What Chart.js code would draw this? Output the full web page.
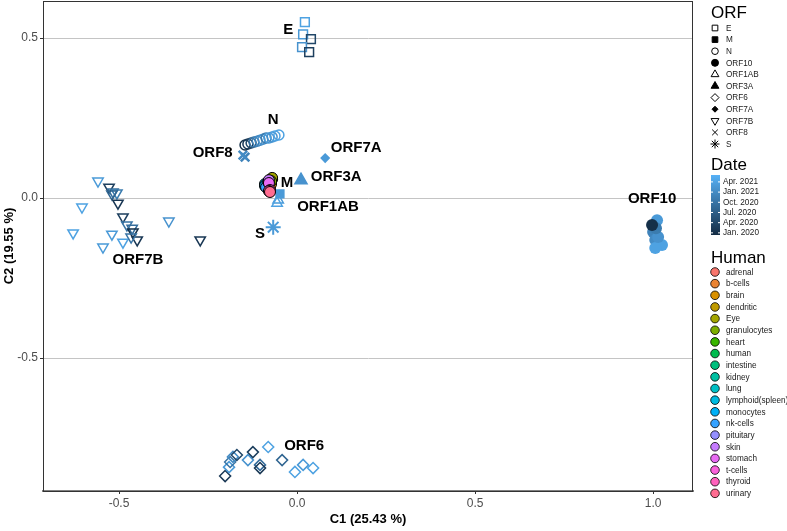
<!DOCTYPE html>
<html lang="en">
<head>
<meta charset="UTF-8" />
<title>C1 / C2 scatter</title>
<script src="https://cdn.jsdelivr.net/npm/chart.js"></script>
<style>
  body { margin: 0; background: #fff; }
  #wrap { width: 787px; height: 531px; }
</style>
</head>
<body>
<div id="wrap"><canvas id="chart" width="787" height="531"></canvas></div>
<script>
// axis ticks
const X_TICKS = [-0.5, 0.0, 0.5, 1.0];
const Y_TICKS = [-0.5, 0.0, 0.5];

// ORF points (C1, C2, sample month)
const E_C1 = [0.022, 0.017, 0.039, 0.014, 0.034];
const E_C2 = [0.550, 0.512, 0.497, 0.472, 0.456];
const E_DATE = ['2021-04', '2021-03', '2020-04', '2021-02', '2020-03'];

const M_C1 = [-0.048];
const M_C2 = [0.013];
const M_DATE = ['2021-03'];

const N_C1 = [-0.146, -0.138, -0.129, -0.121, -0.112, -0.104, -0.096, -0.087, -0.079, -0.070, -0.062, -0.051];
const N_C2 = [0.166, 0.169, 0.172, 0.175, 0.178, 0.181, 0.184, 0.188, 0.188, 0.191, 0.194, 0.197];
const N_DATE = ['2020-01', '2020-02', '2020-04', '2020-10', '2020-12', '2021-01', '2021-02', '2020-11', '2021-03', '2021-02', '2021-04', '2021-04'];

const ORF10_C1 = [1.011, 1.000, 1.006, 1.025, 1.006, 1.014, 1.008, 0.997];
const ORF10_C2 = [-0.069, -0.106, -0.131, -0.147, -0.156, -0.122, -0.094, -0.084];
const ORF10_DATE = ['2021-03', '2020-12', '2021-01', '2021-04', '2021-04', '2021-02', '2020-11', '2020-01'];

const ORF1AB_C1 = [-0.053, -0.056];
const ORF1AB_C2 = [-0.006, -0.016];
const ORF1AB_DATE = ['2021-03', '2021-04'];

const ORF3A_C1 = [0.011];
const ORF3A_C2 = [0.056];
const ORF3A_DATE = ['2021-02'];

const ORF6_C1 = [-0.202, -0.191, -0.188, -0.180, -0.169, -0.138, -0.124, -0.104, -0.104, -0.081, -0.042, -0.006, 0.017, 0.045];
const ORF6_C2 = [-0.869, -0.841, -0.825, -0.809, -0.803, -0.819, -0.794, -0.834, -0.844, -0.778, -0.819, -0.856, -0.834, -0.844];
const ORF6_DATE = ['2020-02', '2021-03', '2020-10', '2021-01', '2020-04', '2021-02', '2020-03', '2020-09', '2020-02', '2021-04', '2020-08', '2021-04', '2021-03', '2021-04'];

const ORF7A_C1 = [0.079];
const ORF7A_C2 = [0.125];
const ORF7A_DATE = ['2021-03'];

const ORF7B_C1 = [-0.559, -0.528, -0.517, -0.506, -0.520, -0.503, -0.604, -0.489, -0.478, -0.463, -0.461, -0.629, -0.520, -0.489, -0.449, -0.466, -0.545, -0.360, -0.272];
const ORF7B_C2 = [0.053, 0.034, 0.019, 0.016, 0.013, -0.016, -0.028, -0.059, -0.084, -0.094, -0.106, -0.109, -0.113, -0.138, -0.131, -0.122, -0.153, -0.072, -0.131];
const ORF7B_DATE = ['2021-03', '2020-03', '2020-09', '2020-11', '2020-08', '2020-02', '2021-04', '2020-03', '2020-10', '2020-09', '2020-01', '2021-04', '2021-03', '2021-04', '2020-02', '2020-10', '2021-03', '2021-02', '2020-02'];

const ORF8_C1 = [-0.146, -0.152];
const ORF8_C2 = [0.128, 0.134];
const ORF8_DATE = ['2020-12', '2021-01'];

const S_C1 = [-0.067];
const S_C2 = [-0.091];
const S_DATE = ['2021-03'];

// human tissue points
const HUMAN = ['adrenal', 'b-cells', 'brain', 'dendritic', 'Eye', 'granulocytes', 'heart', 'human', 'intestine', 'kidney',
  'lung', 'lymphoid(spleen)', 'monocytes', 'nk-cells', 'pituitary', 'skin', 'stomach', 't-cells', 'thyroid', 'urinary'];
const HUMAN_C1 = [-0.079, -0.076, -0.073, -0.070, -0.070, -0.073, -0.081, -0.084, -0.087, -0.084,
  -0.087, -0.090, -0.090, -0.087, -0.081, -0.079, -0.079, -0.076, -0.079, -0.076];
const HUMAN_C2 = [0.031, 0.034, 0.044, 0.059, 0.063, 0.053, 0.041, 0.038, 0.044, 0.047,
  0.041, 0.044, 0.038, 0.034, 0.050, 0.056, 0.047, 0.025, 0.022, 0.019];
const HUMAN_COLORS = ['#F8766D', '#EA8331', '#D89000', '#C09B00', '#A3A500', '#7CAE00', '#39B600', '#00BB4E', '#00BF7D', '#00C1A3',
  '#00BFC4', '#00BAE0', '#00B0F6', '#35A2FF', '#9590FF', '#C77CFF', '#E76BF3', '#FA62DB', '#FF62BC', '#FF6C91'];

// date colour bar
const DATE_TICKS = ['2021-04', '2021-01', '2020-10', '2020-07', '2020-04', '2020-01'];
const DATE_TICK_LABELS = ['Apr. 2021', 'Jan. 2021', 'Oct. 2020', 'Jul. 2020', 'Apr. 2020', 'Jan. 2020'];
const DATE_LIMITS = ['2019-12-12', '2021-06-02'];

const LOW = [0x13, 0x2B, 0x43], HIGH = [0x56, 0xB1, 0xF7];

function monthIndex(s) {
  const p = s.split('-').map(Number);
  let v = (p[0] - 2020) * 12 + (p[1] - 1);
  if (p.length > 2) v += (p[2] - 1) / 30;
  return v;
}
const DMIN = monthIndex(DATE_LIMITS[0]), DMAX = monthIndex(DATE_LIMITS[1]);

function mix(t) {
  t = Math.max(0, Math.min(1, t));
  const c = LOW.map((l, i) => Math.round(l + (HIGH[i] - l) * t));
  return `rgb(${c[0]},${c[1]},${c[2]})`;
}
function dateColor(s) {
  return mix((monthIndex(s) - DMIN) / (DMAX - DMIN));
}

function orfSet(label, xs, ys, dates, style, radius, filled, extra) {
  const cols = dates.map(dateColor);
  return Object.assign({
    label: label,
    data: xs.map((x, i) => ({ x: x, y: ys[i] })),
    pointStyle: style,
    pointRadius: radius,
    pointBorderWidth: 1.5,
    pointBorderColor: cols,
    pointBackgroundColor: filled ? cols : 'rgba(0,0,0,0)'
  }, extra || {});
}

const datasets = [
  {
    label: 'Human',
    data: HUMAN_C1.map((x, i) => ({ x: x, y: HUMAN_C2[i] })),
    pointStyle: 'circle',
    pointRadius: 5.5,
    pointBorderWidth: 1,
    pointBorderColor: '#000',
    pointBackgroundColor: HUMAN_COLORS
  },
  orfSet('E', E_C1, E_C2, E_DATE, 'rect', 6.2, false),
  orfSet('M', M_C1, M_C2, M_DATE, 'rect', 5.5, true),
  orfSet('N', N_C1, N_C2, N_DATE, 'circle', 5, false),
  orfSet('ORF10', ORF10_C1, ORF10_C2, ORF10_DATE, 'circle', 6, true, { pointBorderWidth: 0 }),
  orfSet('ORF1AB', ORF1AB_C1, ORF1AB_C2, ORF1AB_DATE, 'triangle', 6, false),
  orfSet('ORF3A', ORF3A_C1, ORF3A_C2, ORF3A_DATE, 'triangle', 7, true),
  orfSet('ORF6', ORF6_C1, ORF6_C2, ORF6_DATE, 'rectRot', 5.5, false),
  orfSet('ORF7A', ORF7A_C1, ORF7A_C2, ORF7A_DATE, 'rectRot', 4, true),
  orfSet('ORF7B', ORF7B_C1, ORF7B_C2, ORF7B_DATE, 'triangle', 6, false, { pointRotation: 180 }),
  orfSet('ORF8', ORF8_C1, ORF8_C2, ORF8_DATE, 'crossRot', 6, false, { pointBorderWidth: 2.5 }),
  orfSet('S', S_C1, S_C2, S_DATE, 'star', 7.5, false, { pointBorderWidth: 2 })
];

// cluster labels (data coordinates)
const LABELS = [
  { t: 'E', x: -0.025, y: 0.525 },
  { t: 'N', x: -0.067, y: 0.244 },
  { t: 'ORF8', x: -0.237, y: 0.141 },
  { t: 'ORF7A', x: 0.166, y: 0.156 },
  { t: 'ORF3A', x: 0.110, y: 0.066 },
  { t: 'M', x: -0.028, y: 0.047 },
  { t: 'ORF1AB', x: 0.087, y: -0.028 },
  { t: 'S', x: -0.104, y: -0.113 },
  { t: 'ORF7B', x: -0.447, y: -0.194 },
  { t: 'ORF6', x: 0.020, y: -0.775 },
  { t: 'ORF10', x: 0.997, y: -0.003 }
];

const FONT = '"Liberation Sans", Arial, sans-serif';

const labelPlugin = {
  id: 'clusterLabels',
  afterDatasetsDraw(chart) {
    const ctx = chart.ctx, xs = chart.scales.x, ys = chart.scales.y;
    ctx.save();
    ctx.font = 'bold 15px ' + FONT;
    ctx.fillStyle = '#000';
    ctx.textAlign = 'center';
    ctx.textBaseline = 'middle';
    LABELS.forEach(l => ctx.fillText(l.t, xs.getPixelForValue(l.x), ys.getPixelForValue(l.y)));
    // panel border
    const a = chart.chartArea;
    ctx.strokeStyle = '#333';
    ctx.lineWidth = 1;
    ctx.strokeRect(a.left + 0.5, a.top + 0.5, a.right - a.left - 1, a.bottom - a.top);
    ctx.restore();
  }
};

const legendPlugin = {
  id: 'sideLegend',
  afterDraw(chart) {
    const ctx = chart.ctx;
    const lx = 711;
    const small = '8.2px ' + FONT;
    ctx.save();
    ctx.textBaseline = 'middle';
    ctx.textAlign = 'left';

    // ORF shapes
    ctx.fillStyle = '#000';
    ctx.font = '17px ' + FONT;
    ctx.fillText('ORF', lx, 13);
    const shapes = [
      ['E', 'rect', 4, false, 0], ['M', 'rect', 4, true, 0], ['N', 'circle', 3.3, false, 0],
      ['ORF10', 'circle', 3.5, true, 0], ['ORF1AB', 'triangle', 4.5, false, 0], ['ORF3A', 'triangle', 4.5, true, 0],
      ['ORF6', 'rectRot', 4, false, 0], ['ORF7A', 'rectRot', 3, true, 0], ['ORF7B', 'triangle', 4.5, false, 180],
      ['ORF8', 'crossRot', 4, false, 0], ['S', 'star', 4.5, false, 0]
    ];
    shapes.forEach((s, i) => {
      const y = 28 + i * 11.6;
      ctx.fillStyle = s[3] ? '#000' : 'rgba(0,0,0,0)';
      ctx.strokeStyle = '#000';
      ctx.lineWidth = 1;
      Chart.helpers.drawPoint(ctx, { pointStyle: s[1], radius: s[2], rotation: s[4], borderWidth: 1 }, 715, y);
      ctx.fillStyle = '#1a1a1a';
      ctx.font = small;
      ctx.fillText(s[0], 726, y + 0.5);
    });

    // Date colour bar
    ctx.fillStyle = '#000';
    ctx.font = '17px ' + FONT;
    ctx.fillText('Date', lx, 165);
    const bTop = 175, bBot = 235, bx = 711, bw = 9;
    const g = ctx.createLinearGradient(0, bBot, 0, bTop);
    for (let k = 0; k <= 10; k++) g.addColorStop(k / 10, mix(k / 10));
    ctx.fillStyle = g;
    ctx.fillRect(bx, bTop, bw, bBot - bTop);
    DATE_TICKS.forEach((d, i) => {
      const y = bBot - (monthIndex(d) - DMIN) / (DMAX - DMIN) * (bBot - bTop);
      ctx.strokeStyle = '#fff';
      ctx.lineWidth = 1;
      ctx.beginPath();
      ctx.moveTo(bx, y); ctx.lineTo(bx + 2, y);
      ctx.moveTo(bx + bw - 2, y); ctx.lineTo(bx + bw, y);
      ctx.stroke();
      ctx.fillStyle = '#1a1a1a';
      ctx.font = small;
      ctx.fillText(DATE_TICK_LABELS[i], 723, y);
    });

    // Human fill colours
    ctx.fillStyle = '#000';
    ctx.font = '17px ' + FONT;
    ctx.fillText('Human', lx, 258);
    HUMAN.forEach((h, i) => {
      const y = 272 + i * 11.65;
      ctx.fillStyle = HUMAN_COLORS[i];
      ctx.strokeStyle = '#000';
      ctx.lineWidth = 0.8;
      ctx.beginPath();
      ctx.arc(715, y, 4.3, 0, Math.PI * 2);
      ctx.fill();
      ctx.stroke();
      ctx.fillStyle = '#1a1a1a';
      ctx.font = small;
      ctx.fillText(h, 726, y + 0.5);
    });
    ctx.restore();
  }
};

new Chart(document.getElementById('chart'), {
  type: 'scatter',
  data: { datasets: datasets },
  options: {
    responsive: false,
    animation: false,
    devicePixelRatio: 1,
    layout: { autoPadding: false, padding: { top: 1, right: 94, left: 0, bottom: 0 } },
    plugins: { legend: { display: false }, tooltip: { enabled: false } },
    scales: {
      x: {
        type: 'linear',
        min: -0.7135,
        max: 1.112,
        afterBuildTicks: s => { s.ticks = X_TICKS.map(v => ({ value: v })); },
        afterFit: s => { s.height = 40; s.paddingLeft = 0; s.paddingRight = 0; },
        ticks: {
          callback: v => v.toFixed(1),
          color: '#4d4d4d',
          font: { family: FONT, size: 12 },
          padding: 2,
          maxRotation: 0
        },
        grid: { drawOnChartArea: false, drawTicks: true, tickLength: 3, tickColor: '#333' },
        border: { display: true, color: '#808080', width: 2 },
        title: {
          display: true,
          text: 'C1 (25.43 %)',
          color: '#000',
          font: { family: FONT, size: 13, weight: 'bold' },
          padding: { top: 0, bottom: 4 }
        }
      },
      y: {
        type: 'linear',
        min: -0.9156,
        max: 0.616,
        afterBuildTicks: s => { s.ticks = Y_TICKS.map(v => ({ value: v })); },
        afterFit: s => { s.width = 43; s.paddingTop = 0; s.paddingBottom = 0; },
        ticks: {
          callback: v => v.toFixed(1),
          color: '#4d4d4d',
          font: { family: FONT, size: 12 },
          padding: 2
        },
        grid: { color: '#c4c4c4', lineWidth: 1, tickLength: 3, tickColor: '#333' },
        border: { display: true, color: '#333', width: 1 },
        title: {
          display: true,
          text: 'C2 (19.55 %)',
          color: '#000',
          font: { family: FONT, size: 13, weight: 'bold' },
          padding: { top: 2, bottom: 0 }
        }
      }
    }
  },
  plugins: [labelPlugin, legendPlugin]
});
</script>
</body>
</html>
